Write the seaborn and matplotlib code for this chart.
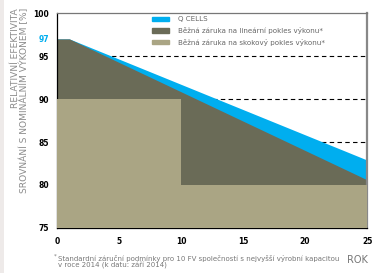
import matplotlib
matplotlib.use('Agg')
import matplotlib.pyplot as plt
from matplotlib.patches import Patch, Rectangle
import seaborn as sns

# ── Data ────────────────────────────────────────────────────────────────
years_lin = [0, 1, 25]
qcells = [97, 97, 82.9]
linear_std = [97, 97, 80.6]
years_step = [0, 10, 25]
step_std = [90, 80, 80]
yticks = [75, 80, 85, 90, 95, 100]
xticks = [0, 5, 10, 15, 20, 25]
grid_levels = [80, 85, 90, 95]
labels = ['Q CELLS',
          'Běžná záruka na lineární pokles výkonu*',
          'Běžná záruka na skokový pokles výkonu*']

# ── Styling ─────────────────────────────────────────────────────────────
COL = {
    'blue':  '#00AEEF',
    'dark':  '#6A6B57',
    'light': '#AAA584',
    'gray':  '#8C8C8C',
}
sns.set_style('white')
plt.rcParams['font.family'] = ['DejaVu Sans']

fig = plt.figure(figsize=(3.72, 2.73), dpi=100)
fig.patches.append(Rectangle((0, 0), 4 / 372, 1, transform=fig.transFigure,
                             color='#EEEAE9', lw=0, zorder=0))
ax = fig.add_axes([0.153, 0.165, 0.834, 0.787])

for g in grid_levels:
    ax.axhline(g, color='black', lw=0.8, ls=(0, (4, 3)), zorder=0)

ax.fill_between(years_lin, 75, qcells, color=COL['blue'], lw=0, zorder=1)
ax.fill_between(years_lin, 75, linear_std, color=COL['dark'], lw=0, zorder=2)
ax.fill_between(years_step, 75, step_std, step='post', color=COL['light'],
                lw=0, zorder=3)

ax.set_xlim(0, 25)
ax.set_ylim(75, 100)
ax.set_xticks(xticks)
ax.set_yticks(yticks + [97])
ax.set_yticklabels([str(t) for t in yticks] + ['97'])
ax.tick_params(axis='both', direction='out', length=2.5, width=0.8,
               labelsize=5.5, colors='black')
ax.tick_params(axis='x', pad=4)
ax.tick_params(axis='y', pad=3)
for lbl in ax.get_xticklabels() + ax.get_yticklabels():
    lbl.set_fontweight('bold')
ax.get_yticklabels()[-1].set_color(COL['blue'])
ax.yaxis.get_major_ticks()[-1].tick1line.set_visible(False)

for side in ['left', 'bottom']:
    ax.spines[side].set_color('black')
    ax.spines[side].set_linewidth(0.9)
ax.spines['top'].set_color('#777777')
ax.spines['top'].set_linewidth(0.9)
ax.spines['right'].set_color('#888888')
ax.spines['right'].set_linewidth(1.6)

fig.text(20 / 372, 1 - 8 / 273,
         'RELATIVNÍ EFEKTIVITA\nSROVNÁNÍ S NOMINÁLNÍM VÝKONEM [%]',
         fontsize=6.6, color=COL['gray'], rotation=90, ha='center', va='top',
         multialignment='right', linespacing=0.95)

handles = [Patch(color=COL['blue']), Patch(color=COL['dark']),
           Patch(color=COL['light'])]
leg = ax.legend(handles, labels, loc='upper left', bbox_to_anchor=(0.305, 0.985),
                frameon=False, fontsize=5.1, handlelength=2.5,
                handleheight=0.55, handletextpad=1.3, labelspacing=0.65,
                borderpad=0, borderaxespad=0)
for t in leg.get_texts():
    t.set_color('#666666')

fig.text(368 / 372, 1 - 260 / 273, 'ROK', fontsize=7, color='#777777',
         ha='right', va='center')
fig.text(54 / 372, 1 - 256 / 273, '*', fontsize=4, color='#777777',
         ha='left', va='center')
fig.text(58 / 372, 1 - 262 / 273,
         'Standardní záruční podmínky pro 10 FV společností s nejvyšší výrobní kapacitou\n'
         'v roce 2014 (k datu: září 2014)',
         fontsize=5.0, color='#777777', ha='left', va='center', linespacing=1.1)

fig.savefig('out.png', dpi=100)
